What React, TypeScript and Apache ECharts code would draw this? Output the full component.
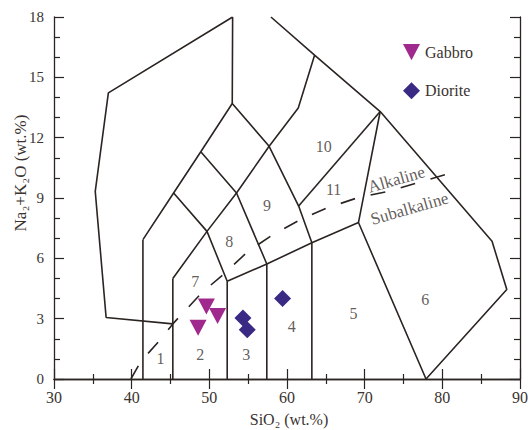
import React, { useEffect, useRef } from "react";
import * as echarts from "echarts";

// axis ranges
const xMin = 30, xMax = 90, xStep = 10;
const yMin = 0, yMax = 18, yStep = 3;

// samples (SiO2, Na2O+K2O)
const gabbro = [[49.62, 3.6], [51.06, 3.13], [48.55, 2.55]];
const diorite = [[54.33, 3.03], [54.88, 2.45], [59.43, 4.0]];

// field boundaries
const outerLeft = [[53.0, 18], [37.0, 14.23], [35.31, 9.33], [36.71, 3.06], [45.3, 2.74]];
const v41 = [[41.45, 0], [41.45, 6.93]];
const v45 = [[45.3, 0], [45.3, 5.0]];
const v52 = [[52.3, 0], [52.3, 4.86]];
const v57 = [[57.4, 0], [57.4, 5.72]];
const v63 = [[63.2, 0], [63.2, 6.77]];
const lineA = [[41.45, 6.93], [45.4, 9.25], [48.9, 11.3], [52.95, 13.7], [53.0, 18]];
const lineB = [[45.3, 5.0], [49.7, 7.34], [53.5, 9.25], [57.7, 11.57], [61.45, 13.48], [63.55, 16.1]];
const lineC = [[52.3, 4.86], [49.7, 7.34], [45.4, 9.25]];
const lineD = [[57.4, 5.72], [53.5, 9.25], [48.9, 11.3]];
const lineE = [[63.2, 6.77], [61.5, 8.6], [57.7, 11.57], [52.95, 13.7]];
const lineG = [[52.3, 4.86], [57.4, 5.72], [63.2, 6.77], [69.2, 7.78]];
const lineH = [[61.5, 8.6], [72.0, 13.3]];
const lineI = [[72.0, 13.3], [69.2, 7.78], [77.9, 0]];
const outerTop = [[57.93, 18], [63.55, 16.1], [72.0, 13.3], [86.4, 6.85], [88.3, 4.45], [77.9, 0]];
const boundaries = [outerLeft, v41, v45, v52, v57, v63, lineA, lineB, lineC, lineD, lineE, lineG, lineH, lineI, outerTop];

// alkaline / subalkaline divider (dashed)
const divider = [[39.9, 0.0], [41.2, 0.88], [43.7, 1.96], [45.3, 2.74], [49.0, 4.28], [51.8, 5.2], [55.0, 6.35], [58.2, 7.18], [61.8, 7.94], [65.2, 8.51], [69.0, 9.0], [73.0, 9.33], [76.8, 9.75], [80.4, 10.16]];

// field numbers
const fieldNames = ["1", "2", "3", "4", "5", "6", "7", "8", "9", "10", "11"];
const fieldX = [43.72, 48.82, 54.76, 60.61, 68.56, 77.81, 48.18, 52.55, 57.43, 64.74, 66.0];
const fieldY = [1.04, 1.22, 1.22, 2.61, 3.28, 3.95, 4.86, 6.84, 8.62, 11.54, 9.42];

const seriesNames = ["Gabbro", "Diorite"];
const dividerNames = ["Alkaline", "Subalkaline"];
const dividerX = [74.08, 75.77];
const dividerY = [9.92, 8.47];

const LINE = "#2b2421";
const TEXT = "#3a3330";
const FONT = "Liberation Serif";

export default function App() {
  const ref = useRef<HTMLDivElement>(null);
  useEffect(() => {
    if (!ref.current) return;
    const chart = echarts.init(ref.current, null, { renderer: "svg" });
    const axisCommon = {
      min: xMin,
      max: xMax,
      interval: xStep,
      axisLine: { show: true, lineStyle: { color: LINE, width: 1.3 } },
      axisTick: { show: true, inside: true, length: 10, lineStyle: { color: LINE, width: 1.2 } },
      minorTick: { show: true, splitNumber: 2, length: 5, lineStyle: { color: LINE, width: 1.2 } },
      splitLine: { show: false },
    };
    const yCommon = {
      min: yMin,
      max: yMax,
      interval: yStep,
      axisLine: { show: true, lineStyle: { color: LINE, width: 1.3 } },
      axisTick: { show: true, inside: true, length: 10, lineStyle: { color: LINE, width: 1.2 } },
      minorTick: { show: true, splitNumber: 3, length: 6, lineStyle: { color: LINE, width: 1.2 } },
      splitLine: { show: false },
    };
    const lineSeries = boundaries.map((pts, i) => ({
      type: "line",
      name: "b" + i,
      data: pts,
      showSymbol: false,
      symbol: "none",
      silent: true,
      lineStyle: { color: LINE, width: 1.6 },
      z: 2,
    }));
    chart.setOption({
      animation: false,
      textStyle: { fontFamily: FONT },
      grid: { left: 54, right: 6, top: 17, bottom: 51 },
      xAxis: [
        {
          type: "value",
          position: "bottom",
          ...axisCommon,
          axisLabel: { show: true, margin: 10, fontSize: 16, color: TEXT, fontFamily: FONT },
        },
        {
          type: "value",
          position: "top",
          ...axisCommon,
          axisLabel: { show: false },
        },
      ],
      yAxis: [
        {
          type: "value",
          position: "left",
          ...yCommon,
          axisLabel: { show: true, margin: 10, fontSize: 15, color: TEXT, fontFamily: FONT },
        },
        {
          type: "value",
          position: "right",
          ...yCommon,
          axisLabel: { show: false },
        },
      ],
      legend: {
        data: seriesNames,
        orient: "vertical",
        left: 398,
        top: 39,
        itemWidth: 17,
        itemHeight: 17,
        itemGap: 22,
        textStyle: { fontSize: 16, color: TEXT, fontFamily: FONT },
      },
      graphic: [
        {
          type: "text",
          x: 289,
          y: 419,
          style: {
            text: "SiO₂ (wt.%)",
            fontSize: 16,
            fontFamily: FONT,
            fill: TEXT,
            textAlign: "center",
            textVerticalAlign: "middle",
          },
        },
        {
          type: "text",
          x: 20,
          y: 173,
          rotation: Math.PI / 2,
          style: {
            text: "Na₂+K₂O (wt.%)",
            fontSize: 17,
            fontFamily: FONT,
            fill: TEXT,
            textAlign: "center",
            textVerticalAlign: "middle",
          },
        },
      ],
      series: [
        ...lineSeries,
        {
          type: "line",
          name: "divider",
          data: divider,
          showSymbol: false,
          symbol: "none",
          silent: true,
          lineStyle: { color: LINE, width: 1.6, type: [15, 16] },
          z: 2,
        },
        {
          type: "scatter",
          name: "fields",
          silent: true,
          symbolSize: 1,
          itemStyle: { color: "rgba(0,0,0,0)" },
          data: fieldNames.map((n, i) => ({ value: [fieldX[i], fieldY[i]], name: n })),
          label: {
            show: true,
            position: "inside",
            formatter: (p: any) => p.name,
            fontSize: 16,
            color: TEXT,
            fontFamily: FONT,
          },
          z: 3,
        },
        {
          type: "scatter",
          name: "dividerLabels",
          silent: true,
          symbolSize: 1,
          itemStyle: { color: "rgba(0,0,0,0)" },
          data: dividerNames.map((n, i) => ({ value: [dividerX[i], dividerY[i]], name: n })),
          label: {
            show: true,
            position: "inside",
            rotate: 16,
            formatter: (p: any) => p.name,
            fontSize: 17,
            color: TEXT,
            fontFamily: FONT,
          },
          z: 3,
        },
        {
          type: "scatter",
          name: "Gabbro",
          symbol: "path://M0,0L20,0L10,19Z",
          symbolSize: [17, 16],
          itemStyle: { color: "#a0298d", opacity: 1 },
          data: gabbro,
          z: 5,
        },
        {
          type: "scatter",
          name: "Diorite",
          symbol: "diamond",
          symbolSize: [17, 17],
          itemStyle: { color: "#3a2a84", opacity: 1 },
          data: diorite,
          z: 5,
        },
      ],
    });
    return () => chart.dispose();
  }, []);
  return (
    <div
      ref={ref}
      style={{ position: "fixed", left: 0, top: 0, width: 531, height: 430, background: "#fff" }}
    />
  );
}
